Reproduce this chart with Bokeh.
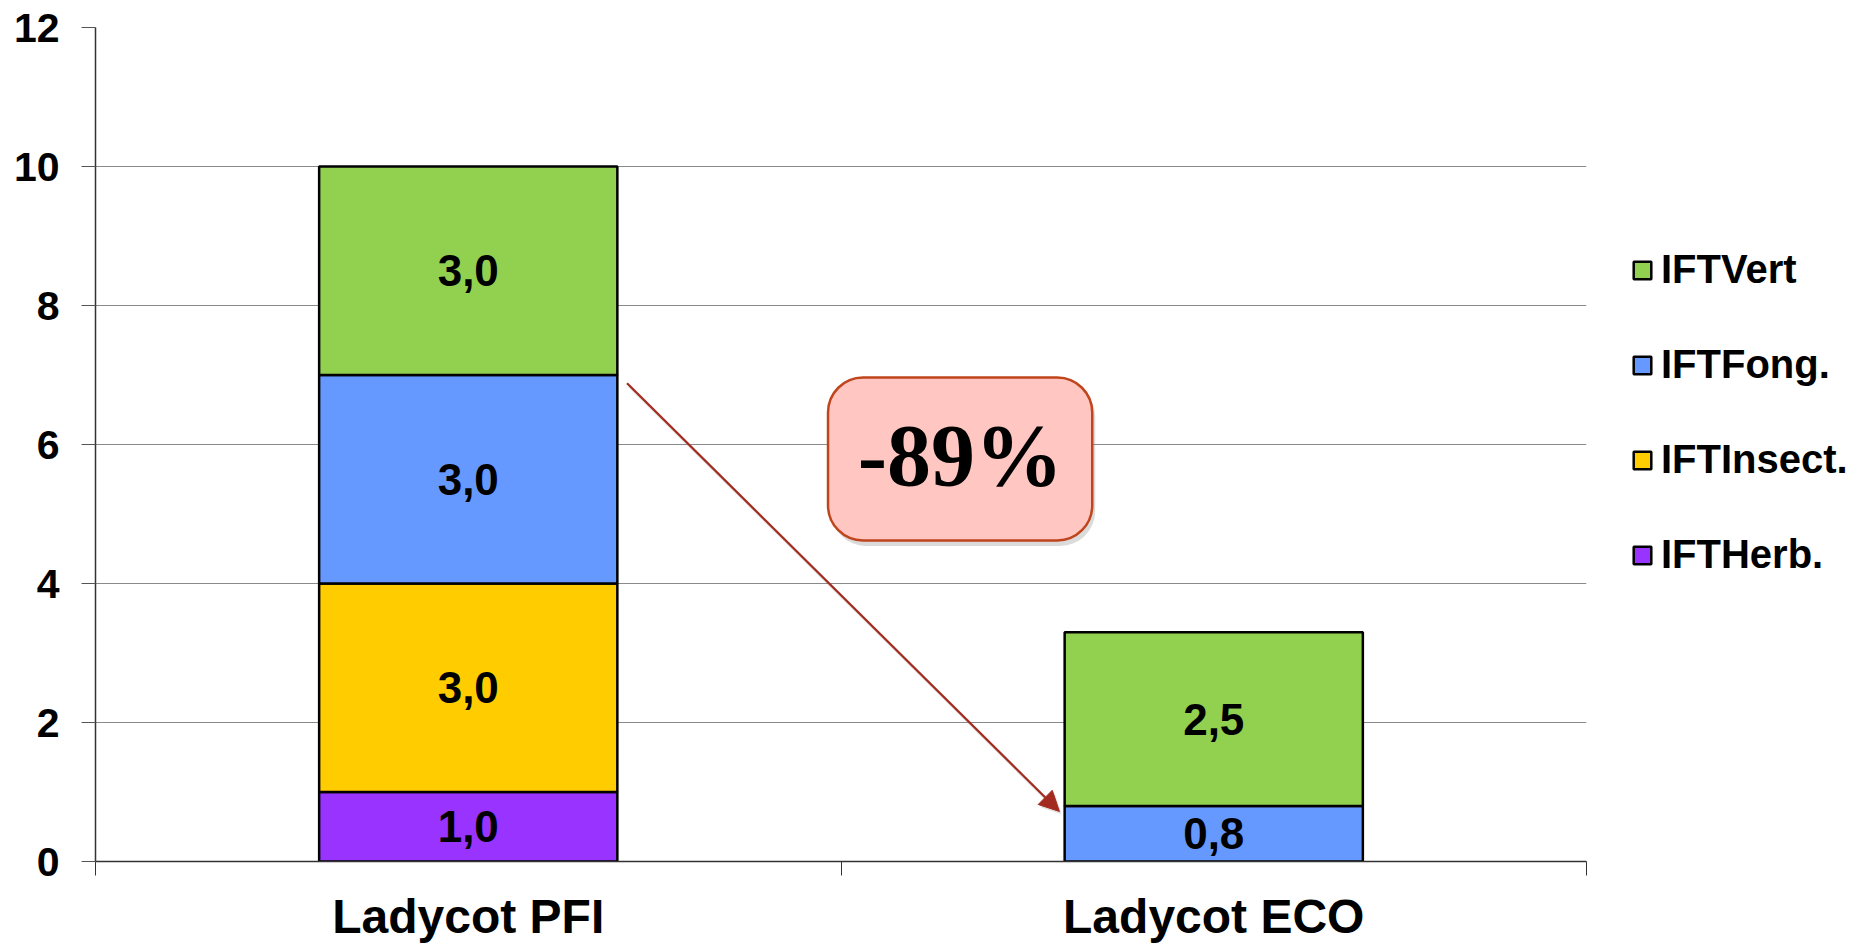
from bokeh.plotting import figure
from bokeh.models import (ColumnDataSource, Range1d, FixedTicker, Legend, LegendItem,
                          BoxAnnotation, Label, Arrow, NormalHead)
from bokeh.embed import file_html
from bokeh.resources import INLINE
from bokeh.core.properties import value

# ---- data ----
categories = ["Ladycot PFI", "Ladycot ECO"]
series_names = ["IFTHerb.", "IFTInsect.", "IFTFong.", "IFTVert"]
herb = [1.0, 0.0]
insect = [3.0, 0.0]
fong = [3.0, 0.8]
vert = [3.0, 2.5]
colors = ["#9933FF", "#FFCC00", "#6699FF", "#92D050"]
y_ticks = [0, 2, 4, 6, 8, 10, 12]
change_label = "-89%"

keys = ["herb", "insect", "fong", "vert"]
values = [herb, insect, fong, vert]
xpos = [i + 0.5 for i in range(len(categories))]

src = ColumnDataSource(dict(x=xpos, **{k: v for k, v in zip(keys, values)}))

p = figure(frame_width=1491, frame_height=834, x_range=Range1d(0, 2), y_range=Range1d(0, 12),
           output_backend="svg", toolbar_location=None,
           min_border_left=95, min_border_top=27, min_border_right=266, min_border_bottom=70)
p.outline_line_color = None
p.background_fill_color = "white"

rs = p.vbar_stack(keys, x="x", width=0.4, fill_color=colors, line_color="black",
                  line_width=2.5, source=src)

# segment value labels
lx, ly, lt = [], [], []
for j, x in enumerate(xpos):
    base = 0.0
    for vals in values:
        v = vals[j]
        if v > 0:
            lx.append(x)
            ly.append(base + v / 2)
            lt.append(f"{v:.1f}".replace(".", ","))
        base += v
p.text(x=lx, y=ly, text=lt, text_font=value("Liberation Sans"), text_font_style="bold",
       text_font_size="44px", text_align="center", text_baseline="middle", text_color="black")

# axes
p.xaxis.ticker = FixedTicker(ticks=xpos, minor_ticks=[0, 1, 2])
p.xaxis.major_label_overrides = {x: c for x, c in zip(xpos, categories)}
p.xaxis.major_tick_out = 0
p.xaxis.major_tick_in = 0
p.xaxis.minor_tick_out = 14
p.xaxis.minor_tick_in = 0
p.xaxis.minor_tick_line_color = "#333333"
p.xaxis.axis_line_color = "#333333"
p.xaxis.axis_line_width = 1.5
p.xaxis.major_label_text_font = "Liberation Sans"
p.xaxis.major_label_text_font_style = "bold"
p.xaxis.major_label_text_font_size = "48px"
p.xaxis.major_label_text_color = "black"
p.xaxis.major_label_standoff = 14
p.xgrid.visible = False

p.yaxis.ticker = FixedTicker(ticks=y_ticks)
p.yaxis.major_tick_out = 14
p.yaxis.major_tick_in = 0
p.yaxis.minor_tick_line_color = None
p.yaxis.major_tick_line_color = "#555555"
p.yaxis.axis_line_color = "#333333"
p.yaxis.axis_line_width = 1.5
p.yaxis.major_label_text_font = "Liberation Sans"
p.yaxis.major_label_text_font_style = "bold"
p.yaxis.major_label_text_font_size = "41px"
p.yaxis.major_label_text_color = "black"
p.yaxis.major_label_standoff = 22
p.ygrid.grid_line_color = "#8a8a8a"
p.ygrid.grid_line_width = 1.2

# legend (in the right panel)
items = [LegendItem(label=series_names[i], renderers=[rs[i]]) for i in reversed(range(len(keys)))]
legend = Legend(items=items, location=(45, 284), padding=0, margin=0,
                border_line_color=None, background_fill_alpha=0,
                glyph_width=22, glyph_height=22, label_standoff=8, spacing=50,
                label_text_font="Liberation Sans", label_text_font_style="bold",
                label_text_font_size="40px", label_text_color="black")
p.add_layout(legend, "right")

# arrow (with a faint shadow)
arrow_color = "#A32A1E"
p.add_layout(Arrow(end=NormalHead(size=20, fill_color="#999999", line_color="#999999",
                                  fill_alpha=0.3, line_alpha=0.0),
                   x_start=0.716, y_start=6.84, x_end=1.296, y_end=0.68,
                   line_color="#999999", line_alpha=0.3, line_width=3))
p.add_layout(Arrow(end=NormalHead(size=20, fill_color=arrow_color, line_color=arrow_color),
                   x_start=0.713, y_start=6.88, x_end=1.293, y_end=0.72,
                   line_color=arrow_color, line_width=2.2))

# -89% box with shadow
p.add_layout(BoxAnnotation(left=0.9866, right=1.341, bottom=4.54, top=6.90,
                           fill_color="#888888", fill_alpha=0.3, line_color=None,
                           border_radius=35))
p.add_layout(BoxAnnotation(left=0.9826, right=1.337, bottom=4.619, top=6.964,
                           fill_color="#FFC6C2", fill_alpha=1.0, line_color="#C0441C",
                           line_alpha=1.0, line_width=2.5, border_radius=35))
p.add_layout(Label(x=1.160, y=5.84, text=change_label, text_font="Liberation Serif",
                   text_font_style="bold", text_font_size="88px", text_align="center",
                   text_baseline="middle", text_color="black"))

open("out.html", "w").write(file_html(p, INLINE))
